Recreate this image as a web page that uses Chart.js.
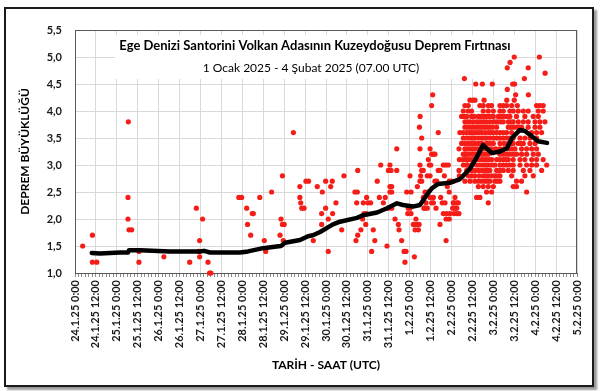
<!DOCTYPE html>
<html>
<head>
<meta charset="utf-8">
<script src="https://cdn.jsdelivr.net/npm/chart.js@4.4.1/dist/chart.umd.min.js"></script>
<style>
  html, body { margin: 0; padding: 0; background: #fff; }
  .frame {
    position: absolute; left: 4px; top: 7px; width: 586px; height: 376px;
    border: 2px solid #1a1a1a; box-shadow: 3px 3px 2px #9a9a9a;
  }
  #chart { position: absolute; left: 0; top: 0; }
</style>
</head>
<body>
<div class="frame"></div>
<canvas id="chart" width="601" height="391"></canvas>
<script>
const titleText = 'Ege Denizi Santorini Volkan Adasının Kuzeydoğusu Deprem Fırtınası';
const subtitleText = '1 Ocak 2025 - 4 Şubat 2025 (07.00 UTC)';

// x values are hours since 24.1.25 0:00
const xTickLabels = [
  '24.1.25 0:00', '24.1.25 12:00', '25.1.25 0:00', '25.1.25 12:00',
  '26.1.25 0:00', '26.1.25 12:00', '27.1.25 0:00', '27.1.25 12:00',
  '28.1.25 0:00', '28.1.25 12:00', '29.1.25 0:00', '29.1.25 12:00',
  '30.1.25 0:00', '30.1.25 12:00', '31.1.25 0:00', '31.1.25 12:00',
  '1.2.25 0:00', '1.2.25 12:00', '2.2.25 0:00', '2.2.25 12:00',
  '3.2.25 0:00', '3.2.25 12:00', '4.2.25 0:00', '4.2.25 12:00',
  '5.2.25 0:00'
];

// [hour, magnitude]
const earlyQuakes = [
  [4.4, 1.5], [10, 1.7], [10, 1.2], [12.5, 1.2], [30.6, 3.8], [30.4, 2.4], [30.4, 2.0],
  [31, 1.8], [32.5, 1.8], [36.7, 1.4], [36.7, 1.2], [51, 1.3], [65.8, 1.2], [69.6, 2.2],
  [73.2, 2.0], [71.5, 1.6], [71, 1.4], [71.5, 1.3], [76.3, 1.2], [77.2, 1.0], [78, 1.0],
  [94, 2.4], [95.6, 2.4], [98.5, 2.2], [99, 1.9], [101.7, 2.1], [102.3, 2.1], [100.8, 1.7],
  [106, 2.4], [108.6, 1.6], [109.4, 1.4], [112.8, 2.5], [119, 2.8], [118.2, 2.0],
  [117.6, 1.7], [119, 1.9], [120, 1.9], [119.5, 1.6]
];

const middleQuakes = [
  [125.3, 3.6], [129, 2.6], [129, 2.4], [129.5, 2.3], [130.1, 2.2], [131.4, 2.2], [132.5, 2.7],
  [134, 2.7], [136.7, 1.6], [139, 2.6], [141.5, 2.1], [141.5, 1.9], [141.9, 2.5], [143.8, 2.7],
  [143.8, 2.2], [145.3, 2.0], [145.3, 1.4], [146.7, 2.6], [147.6, 2.7], [147.8, 2.1], [149.7, 2.3],
  [153, 1.8], [154.3, 2.8], [160.6, 2.5], [161.2, 1.6], [161.6, 2.3], [162, 2.5], [162.2, 2.9],
  [162.2, 1.7], [164, 1.8], [165, 2.0], [165.4, 2.3], [165.8, 2.1], [166.8, 1.9], [167.3, 2.4],
  [167.3, 2.1], [168, 2.3], [169.6, 2.3], [170.2, 1.4], [171.1, 1.8], [172, 1.6], [173.4, 2.7],
  [174.6, 2.4], [175.4, 3.0], [176.9, 2.3], [178, 2.4], [179, 1.5], [179.6, 2.2], [179.8, 2.9],
  [180.1, 2.9], [180.7, 3.0], [180.7, 2.6], [181.3, 2.9], [181.7, 2.6], [180.7, 2.5], [181.7, 2.5],
  [181.7, 2.2], [183.6, 2.0], [184.6, 3.3], [184.6, 2.9], [185.5, 1.9], [185.9, 1.8], [187.4, 1.6],
  [188.8, 1.4], [189.3, 1.2], [189.9, 1.4], [190.3, 2.5], [190.9, 2.1], [191.2, 2.2], [192.2, 2.8],
  [192.2, 2.2], [192.8, 2.1], [192.8, 2.5], [194.1, 1.9], [194.7, 1.3], [195.1, 1.8], [195.6, 2.0],
  [196, 1.9], [196.4, 2.6], [197, 1.8], [197.4, 1.9], [197.6, 3.7], [197.9, 3.3], [197.9, 3.0],
  [197.9, 2.7], [198, 3.9], [198.3, 2.8], [198.9, 3.5], [198.9, 2.9], [198.9, 2.7], [199.8, 2.9],
  [199.8, 2.4], [200.2, 2.2], [200.8, 2.5], [200.8, 2.2], [201.4, 2.3], [202.1, 2.8], [202.1, 2.2],
  [202.4, 2.5], [202.7, 3.1], [203.3, 3.0], [203.7, 3.3], [203.7, 2.8], [203.7, 2.4], [204.1, 3.0],
  [204.6, 4.1], [204.6, 3.2], [204.6, 2.3], [205.2, 4.3], [205.6, 3.2], [205.6, 2.4], [205.6, 2.3],
  [206.5, 3.2], [206.5, 2.7], [207.1, 2.2], [207.5, 2.7], [208.4, 3.6], [208.4, 2.9], [209.4, 2.9],
  [209.4, 1.9], [209.8, 2.4], [210.7, 2.3], [211.3, 3.0], [211.3, 2.1], [211.9, 2.8], [212.3, 2.3],
  [212.7, 3.0], [212.9, 1.6], [212.9, 2.0], [213.2, 2.1], [213.6, 2.6], [214.2, 3.0], [214.7, 2.7],
  [214.7, 2.5], [214.7, 2.0], [215.1, 2.1], [216.1, 2.7], [216.7, 2.2], [217.4, 2.3], [217.4, 2.1],
  [218, 2.2], [218, 2.4], [219, 2.2], [219, 2.1], [219.9, 2.3], [220.3, 2.1], [220.3, 3.3],
  [220.3, 2.9], [220.5, 2.8], [220.5, 3.1], [222.4, 3.1], [223.7, 3.2], [224.7, 3.0], [225.1, 2.9],
  [225.6, 2.8]
];

const swarmQuakes = [
  [252, 5.0], [266.4, 5.0], [249.6, 4.9], [248, 4.8], [260, 4.8], [269.7, 4.7], [223.4, 4.6],
  [257.8, 4.6], [229.9, 4.5], [233.7, 4.5], [239.4, 4.5], [251.1, 4.5], [252.2, 4.5], [248, 4.4],
  [252.8, 4.3], [260.1, 4.3],
  [226.6, 4.2], [228.2, 4.2], [229.5, 4.2], [234.7, 4.2], [247.7, 4.2], [252, 4.2],
  [223.7, 4.1], [225.6, 4.1], [232.3, 4.1], [234.2, 4.1], [237.1, 4.1], [239.0, 4.1], [243.8, 4.1],
  [245.7, 4.1], [247.6, 4.1], [250.5, 4.1], [253.8, 4.1], [264.8, 4.1], [266.7, 4.1], [268.6, 4.1],
  [222.8, 4.0], [225.6, 4.0], [227.5, 4.0], [234.2, 4.0], [237.1, 4.0], [240.0, 4.0], [243.8, 4.0],
  [245.7, 4.0], [249.5, 4.0], [251.4, 4.0], [254.3, 4.0], [257.2, 4.0], [260.0, 4.0], [265.8, 4.0],
  [268.6, 4.0],
  [221.8, 3.9], [224.7, 3.9], [227.5, 3.9], [231.4, 3.9], [234.2, 3.9], [237.1, 3.9], [240.0, 3.9],
  [242.8, 3.9], [245.7, 3.9], [249.5, 3.9], [253.3, 3.9], [258.1, 3.9], [262.9, 3.9], [265.8, 3.9],
  [223.2, 3.9], [229, 3.9], [232.8, 3.9], [235.7, 3.9], [238.5, 3.9], [244.2, 3.9], [247.6, 3.9],
  [223.7, 3.8], [226.6, 3.8], [230.4, 3.8], [233.3, 3.8], [236.1, 3.8], [240.0, 3.8], [242.8, 3.8],
  [245.7, 3.8], [248.6, 3.8], [251.4, 3.8], [254.3, 3.8], [257.2, 3.8], [260.0, 3.8], [263.9, 3.8],
  [266.7, 3.8], [269.6, 3.8], [225.1, 3.8], [228.5, 3.8], [231.9, 3.8], [234.7, 3.8], [238, 3.8],
  [241.4, 3.8], [244.3, 3.8], [250, 3.8],
  [223.7, 3.7], [226.6, 3.7], [229.4, 3.7], [232.3, 3.7], [235.2, 3.7], [238.0, 3.7], [241.9, 3.7],
  [248.6, 3.7], [251.4, 3.7], [253.3, 3.7], [256.2, 3.7], [260.0, 3.7], [263.9, 3.7], [266.7, 3.7],
  [225.1, 3.7], [228, 3.7], [230.9, 3.7], [233.8, 3.7], [236.6, 3.7], [239.5, 3.7], [250, 3.7],
  [254.8, 3.7],
  [220.8, 3.6], [224.7, 3.6], [227.5, 3.6], [230.4, 3.6], [233.3, 3.6], [237.1, 3.6], [240.0, 3.6],
  [243.8, 3.6], [247.6, 3.6], [250.5, 3.6], [262.0, 3.6], [264.8, 3.6], [267.7, 3.6],
  [222.8, 3.6], [226.1, 3.6], [229, 3.6], [231.9, 3.6], [235.2, 3.6], [238.5, 3.6], [241.9, 3.6],
  [245.7, 3.6],
  [222.8, 3.5], [226.6, 3.5], [229.4, 3.5], [233.3, 3.5], [236.1, 3.5], [240.0, 3.5], [243.8, 3.5],
  [247.6, 3.5], [251.4, 3.5], [255.3, 3.5], [258.1, 3.5], [261.0, 3.5], [264.8, 3.5],
  [224.7, 3.5], [228, 3.5], [231.4, 3.5], [234.7, 3.5], [238, 3.5], [241.9, 3.5], [245.7, 3.5],
  [249.5, 3.5],
  [221.8, 3.4], [225.6, 3.4], [229.4, 3.4], [240.0, 3.4], [243.8, 3.4], [248.6, 3.4], [251.4, 3.4],
  [254.3, 3.4], [257.2, 3.4], [261.0, 3.4], [263.9, 3.4], [223.7, 3.4], [227.5, 3.4], [231.4, 3.4],
  [233.3, 3.4], [236.1, 3.4], [238, 3.4], [246.2, 3.4], [250, 3.4], [255.8, 3.4],
  [223.7, 3.3], [226.6, 3.3], [229.4, 3.3], [232.3, 3.3], [235.2, 3.3], [239.0, 3.3], [243.8, 3.3],
  [248.6, 3.3], [252.4, 3.3], [256.2, 3.3], [259.1, 3.3], [262.0, 3.3], [264.8, 3.3],
  [225.1, 3.3], [228, 3.3], [230.9, 3.3], [233.8, 3.3], [237.1, 3.3], [241.4, 3.3], [246.2, 3.3],
  [250.5, 3.3],
  [222.8, 3.2], [225.6, 3.2], [228.5, 3.2], [231.4, 3.2], [234.2, 3.2], [237.1, 3.2], [245.7, 3.2],
  [249.5, 3.2], [253.3, 3.2], [256.2, 3.2], [259.1, 3.2], [262.9, 3.2], [265.8, 3.2],
  [224.2, 3.2], [227, 3.2], [229.9, 3.2], [232.8, 3.2], [235.7, 3.2], [243.8, 3.2], [247.6, 3.2],
  [251.4, 3.2],
  [223.7, 3.1], [226.6, 3.1], [229.4, 3.1], [233.3, 3.1], [236.1, 3.1], [239.0, 3.1], [241.9, 3.1],
  [245.7, 3.1], [248.6, 3.1], [251.4, 3.1], [255.3, 3.1], [258.1, 3.1], [262.0, 3.1], [264.8, 3.1],
  [268.6, 3.1], [225.1, 3.1], [228, 3.1], [231.4, 3.1], [234.7, 3.1], [237.6, 3.1], [243.8, 3.1],
  [247.1, 3.1],
  [222.8, 3.0], [227.5, 3.0], [230.4, 3.0], [234.2, 3.0], [237.1, 3.0], [240.9, 3.0], [243.8, 3.0],
  [247.6, 3.0], [251.4, 3.0], [255.3, 3.0], [259.1, 3.0], [262.0, 3.0], [264.8, 3.0], [270.6, 3.0],
  [225.1, 3.0], [232.3, 3.0], [235.7, 3.0], [239, 3.0], [245.7, 3.0], [249.5, 3.0],
  [224.7, 2.9], [227.5, 2.9], [231.4, 2.9], [235.2, 2.9], [238.0, 2.9], [241.9, 2.9], [245.7, 2.9],
  [251.4, 2.9], [257.2, 2.9], [261.0, 2.9], [267.7, 2.9], [229.4, 2.9], [233.3, 2.9], [236.6, 2.9],
  [243.8, 2.9], [248.6, 2.9],
  [229.4, 2.8], [234.2, 2.8], [237.1, 2.8], [240.9, 2.8], [243.8, 2.8], [250.5, 2.8], [258.1, 2.8],
  [262.9, 2.8], [227.5, 2.8], [231.9, 2.8], [235.7, 2.8], [239, 2.8], [242.4, 2.8],
  [223.7, 2.7], [226.6, 2.7], [229.4, 2.7], [235.2, 2.7], [238.0, 2.7], [240.9, 2.7], [243.8, 2.7],
  [253.3, 2.7], [256.2, 2.7], [231.4, 2.7], [233.3, 2.7], [236.6, 2.7], [242.4, 2.7],
  [231.4, 2.6], [234.2, 2.6], [237.1, 2.6], [240.0, 2.6], [251.4, 2.6], [253.3, 2.6],
  [236.1, 2.5], [239.0, 2.5], [259.1, 2.5], [230.4, 2.4], [232.3, 2.4],
  [217.0, 2.3], [218.9, 2.3], [237.1, 2.3]
];

// moving average line
const avgHours = [
  9.6, 14.3, 25.8, 30.4, 31, 37.3, 54.5, 71.7, 74, 77.5, 94.7, 99.3, 107.9, 115.7, 118.2,
  120.5, 129.1, 133.7, 136.5, 140.6, 148, 152, 161.8, 165.2, 173.3, 179, 184.7, 188.2, 193.9,
  197.9, 201.9, 204.8, 208.3, 215.1, 220.9, 226.6, 230.6, 234.1, 236.4, 239.2, 243.8, 247.8,
  250.7, 255.3, 258.2, 262.2, 265.6, 270.8
];
const avgMags = [
  1.37, 1.36, 1.38, 1.38, 1.42, 1.42, 1.40, 1.40, 1.41, 1.38, 1.38, 1.40, 1.46, 1.49, 1.50,
  1.56, 1.61, 1.68, 1.70, 1.76, 1.90, 1.95, 2.02, 2.07, 2.12, 2.20, 2.29, 2.26, 2.23,
  2.26, 2.45, 2.57, 2.65, 2.67, 2.74, 2.93, 3.15, 3.37, 3.30, 3.22, 3.25, 3.31,
  3.50, 3.65, 3.63, 3.53, 3.44, 3.41
];

const FONT = 'Lato, "Open Sans", sans-serif';

// title box drawn inside the plot area, under the points
const titlePlugin = {
  id: 'titleBox',
  beforeDatasetsDraw(chart) {
    const { ctx, chartArea } = chart;
    ctx.save();
    // plot border
    ctx.strokeStyle = '#595959';
    ctx.lineWidth = 1;
    ctx.strokeRect(chartArea.left + 0.5, chartArea.top + 0.5,
      chartArea.right - chartArea.left - 1, chartArea.bottom - chartArea.top);
    ctx.fillStyle = '#fff';
    ctx.fillRect(chartArea.left + 40, chartArea.top + 5, 402, 44);
    ctx.fillStyle = '#000';
    ctx.textAlign = 'center';
    ctx.textBaseline = 'middle';
    const cx = chartArea.left + 240;
    ctx.font = 'bold 13px ' + FONT;
    ctx.fillText(titleText, cx, chartArea.top + 16);
    ctx.font = '12px ' + FONT;
    ctx.fillText(subtitleText, cx - 4, chartArea.top + 38);
    ctx.restore();
  }
};

const toPoints = list => list.map(p => ({ x: p[0], y: p[1] }));

const ctx = document.getElementById('chart').getContext('2d');
const chart = new Chart(ctx, {
  type: 'scatter',
  data: {
    datasets: [
      {
        label: 'Ortalama',
        type: 'line',
        data: avgHours.map((h, i) => ({ x: h, y: avgMags[i] })),
        borderColor: '#000',
        borderWidth: 4.5,
        borderJoinStyle: 'round',
        borderCapStyle: 'round',
        pointRadius: 0,
        tension: 0,
        order: 0
      },
      {
        label: 'Deprem',
        data: toPoints([...earlyQuakes, ...middleQuakes, ...swarmQuakes]),
        backgroundColor: '#f51d18',
        borderWidth: 0,
        pointRadius: 2.6,
        clip: false,
        order: 1
      }
    ]
  },
  options: {
    responsive: false,
    animation: false,
    devicePixelRatio: 1,
    layout: { padding: { left: 14, top: 30, right: 24, bottom: 15 } },
    plugins: { legend: { display: false }, tooltip: { enabled: false } },
    scales: {
      x: {
        type: 'linear',
        min: 0,
        max: 288,
        afterFit: s => { s.height = 103; },
        grid: {
          color: c => (c.tick && c.tick.value % 12 === 0) ? '#d9d9d9' : 'rgba(0,0,0,0)',
          tickColor: '#8c8c8c',
          tickLength: 4
        },
        border: { color: '#595959' },
        ticks: {
          stepSize: 2,
          autoSkip: false,
          minRotation: 90,
          maxRotation: 90,
          padding: 3,
          color: '#1a1a1a',
          font: { family: FONT, size: 11, weight: 'bold' },
          callback: v => (v % 12 === 0) ? xTickLabels[v / 12] : ''
        },
        title: {
          display: true,
          text: 'TARİH - SAAT (UTC)',
          color: '#000',
          font: { family: FONT, size: 12, weight: 'bold' },
          padding: { top: 0, bottom: 4 }
        }
      },
      y: {
        min: 1,
        max: 5.5,
        afterFit: s => { s.width = 61; },
        grid: { color: '#d9d9d9', drawTicks: false },
        border: { color: '#595959' },
        ticks: {
          stepSize: 0.5,
          padding: 13,
          color: '#1a1a1a',
          font: { family: FONT, size: 11, weight: 'bold' },
          callback: v => v.toFixed(1).replace('.', ',')
        },
        title: {
          display: true,
          text: 'DEPREM BÜYÜKLÜĞÜ',
          color: '#000',
          font: { family: FONT, size: 12, weight: 'bold' },
          padding: { top: 4, bottom: 0 }
        }
      }
    }
  },
  plugins: [titlePlugin]
});
</script>
</body>
</html>
